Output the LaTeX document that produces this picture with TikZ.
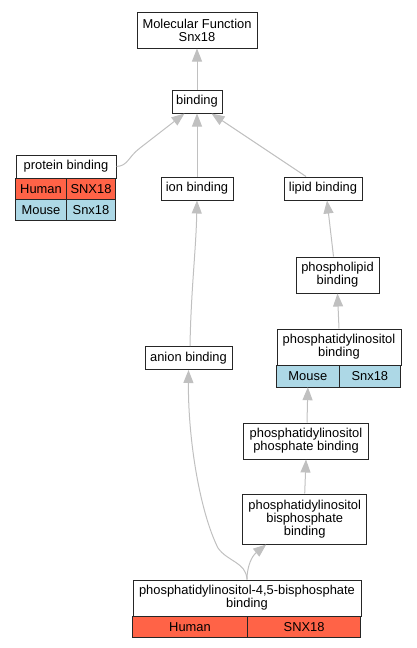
\documentclass[tikz,border=0pt]{standalone}
\usepackage{fontspec}
\setmainfont{Liberation Sans}
\usetikzlibrary{arrows.meta,positioning}
\definecolor{humanred}{HTML}{FF6347}
\definecolor{mouseblue}{HTML}{ADD8E6}
\definecolor{edgegray}{HTML}{C0C0C0}

\begin{document}
\begin{tikzpicture}[
      x=1pt, y=-1pt,
      font=\fontsize{12.9}{13}\selectfont,
      term/.style  ={rectangle, draw=black!85, line width=1pt, fill=white,
                     inner xsep=2pt, inner ysep=2pt, align=center},
      cell/.style  ={rectangle, draw=black!85, line width=1pt, inner sep=0pt,
                     outer sep=0pt, anchor=north west},
      human/.style ={cell, fill=humanred, minimum height=21pt},
      mouse/.style ={cell, fill=mouseblue, minimum height=21pt},
      isa/.style   ={draw=edgegray, line width=1pt,
                     -{Triangle[length=13pt,width=10pt]}}
    ]
    \useasboundingbox (0,0) rectangle (416,648);

    % terms
    \node[term, minimum width=120pt, minimum height=36pt] (mf) at (197,30) {Molecular Function\\Snx18};
    \node[term, minimum width=50pt, minimum height=23pt] (bind) at (197,101.5) {binding};
    \node[term, minimum width=72pt, minimum height=23pt] (ion) at (197,188.5) {ion binding};
    \node[term, minimum width=78pt, minimum height=23pt] (lipid) at (323,188.5) {lipid binding};
    \node[term, minimum width=83pt, minimum height=36pt] (phlip) at (337.5,275) {phospholipid\\binding};
    \node[term, minimum width=87pt, minimum height=23pt] (anion) at (188.5,358) {anion binding};
    \node[term, minimum width=125pt, minimum height=36pt] (pip) at (306,441) {phosphatidylinositol\\phosphate binding};
    \node[term, minimum width=124pt, minimum height=50pt] (pip2) at (304.7,519) {phosphatidylinositol\\bisphosphate\\binding};

    % terms with species rows
    \node[term, minimum width=100pt, minimum height=23pt] (prot) at (66,166.5) {protein binding};
    \node[human, minimum width=51pt] (prot-h1) at (prot.south west) {Human};
    \node[human, minimum width=49pt] (prot-h2) at (prot-h1.north east) {SNX18};
    \node[mouse, minimum width=51pt] (prot-m1) at (prot-h1.south west) {Mouse};
    \node[mouse, minimum width=49pt] (prot-m2) at (prot-m1.north east) {Snx18};

    \node[term, minimum width=124pt, minimum height=36pt] (pi) at (339,347) {phosphatidylinositol\\binding};
    \node[mouse, minimum width=62.7pt, minimum height=21.7pt] (pi-m1) at (pi.south west) {Mouse};
    \node[mouse, minimum width=61.3pt, minimum height=21.7pt] (pi-m2) at (pi-m1.north east) {Snx18};

    \node[term, minimum width=228pt, minimum height=36pt] (pi45) at (247,598) {phosphatidylinositol-4,5-bisphosphate\\binding};
    \node[human, minimum width=115pt, minimum height=21.3pt] (pi45-h1) at (pi45.south west) {Human};
    \node[human, minimum width=113.3pt, minimum height=21.3pt] (pi45-h2) at (pi45-h1.north east) {SNX18};

    % is-a edges
    \draw[isa] (bind.north) -- (mf.south);
    \draw[isa] (ion.north) -- (bind.south);
    \draw[isa] (prot.east) .. controls (128,166) and (128,157) .. (140,148)
          -- ([xshift=13pt]bind.south west);
    \draw[isa] ([xshift=-17pt]lipid.north) -- ([xshift=-11pt]bind.south east);
    \draw[isa] ([xshift=-4pt]phlip.north) -- ([xshift=4pt]lipid.south);
    \draw[isa] (pi.north) -- (phlip.south);
    \draw[isa] ([xshift=1pt]pip.north) -- (pi-m1.south);
    \draw[isa] (pip2.north) -- (pip.south);
    \draw[isa] ([xshift=1.5pt]anion.north) .. controls (191,290) and (196,250) .. (ion.south);
    \draw[isa] (pi45.north) .. controls (247,566) and (252,556) .. ([xshift=24pt]pip2.south west);
    \draw[isa] (pi45.north) .. controls (246,562) and (228,562) .. (218,548)
          .. controls (200,512) and (188,440) .. (anion.south);
\end{tikzpicture}
\end{document}
